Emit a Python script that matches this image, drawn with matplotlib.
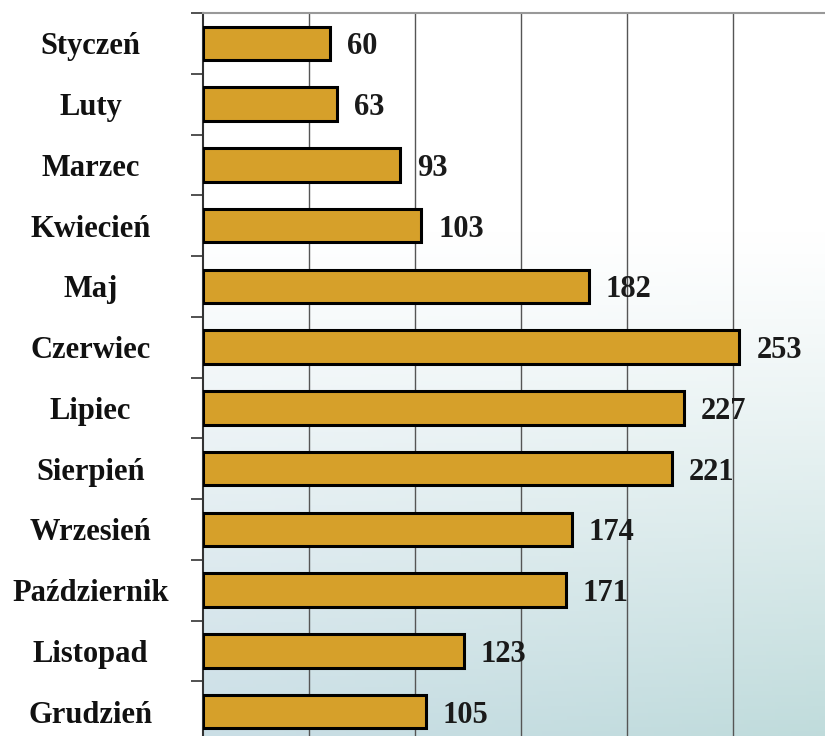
import matplotlib
matplotlib.use("Agg")
import matplotlib.pyplot as plt
import numpy as np

months = ["Styczeń", "Luty", "Marzec", "Kwiecień", "Maj", "Czerwiec",
          "Lipiec", "Sierpień", "Wrzesień", "Październik", "Listopad", "Grudzień"]
values = [60, 63, 93, 103, 182, 253, 227, 221, 174, 171, 123, 105]

plt.rcParams['font.family'] = ['Liberation Serif', 'DejaVu Serif']

fig = plt.figure(figsize=(8.25, 7.36), dpi=100)
ax = fig.add_axes([203 / 825, -6 / 736, 1 - 203 / 825, (742 - 13) / 736])

n = len(months)
y = np.arange(n)

# background: white at the top fading to a pale blue-grey at the bottom
gx, gy = np.meshgrid(np.linspace(0, 1, 200), np.linspace(0, 1, 200))
t = np.clip((gy - 0.3) / 0.7, 0, 1) ** 1.1
left_bot = np.array([0.79, 0.87, 0.90])
right_bot = np.array([0.75, 0.86, 0.86])
bot = left_bot[None, None, :] * (1 - gx[..., None]) + right_bot[None, None, :] * gx[..., None]
img = 1.0 * (1 - t[..., None]) + bot * t[..., None]
ax.imshow(img, extent=[0, 1, 0, 1], transform=ax.transAxes, aspect='auto', zorder=0)

ax.barh(y, values, height=0.55, color="#d6a02a", edgecolor="black", linewidth=2.2, zorder=3)

for yi, v in zip(y, values):
    ax.text(v + 8, yi, str(v), va="center_baseline", ha="left", fontsize=22,
            fontweight="bold", color="#1a1a1a", zorder=4)

ax.set_xlim(0, 293.4)
ax.set_ylim(n - 0.5, -0.5)

for gxv in [50, 100, 150, 200, 250]:
    ax.axvline(gxv, color="#555555", linewidth=1, zorder=1)

ax.set_yticks(y)
ax.set_yticklabels(months, fontsize=22, fontweight="bold", color="#111111")
for lab in ax.get_yticklabels():
    lab.set_ha("center")
ax.tick_params(axis="y", which="major", length=0, pad=81)
ax.set_yticks(np.arange(-0.5, n, 1), minor=True)
ax.tick_params(axis="y", which="minor", length=9, width=1.2, color="#333333")
ax.set_xticks([])

ax.spines["right"].set_visible(False)
ax.spines["bottom"].set_visible(False)
ax.spines["top"].set_color("#999999")
ax.spines["top"].set_linewidth(1.5)
ax.spines["left"].set_color("#333333")
ax.spines["left"].set_linewidth(1.5)

fig.savefig("out.png", dpi=100)
